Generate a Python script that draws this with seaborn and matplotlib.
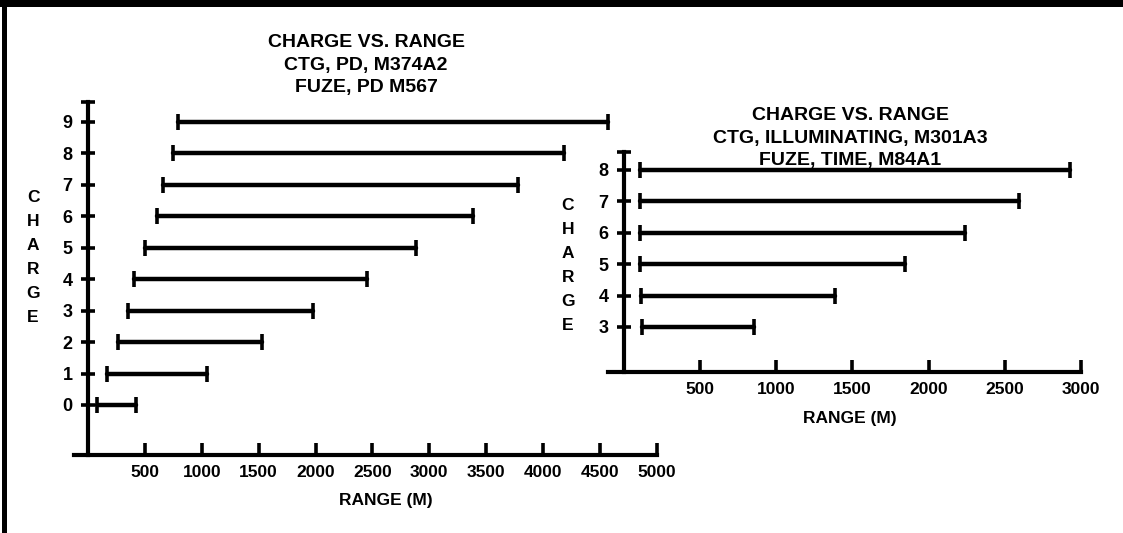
import numpy as np
import pandas as pd
import matplotlib
matplotlib.use("Agg")
import matplotlib.pyplot as plt
import matplotlib.patches as mpatches
import seaborn as sns

# ---------------- data ----------------
left_charges = [0, 1, 2, 3, 4, 5, 6, 7, 8, 9]
left_min = [75, 165, 265, 350, 405, 505, 605, 655, 745, 795]
left_max = [425, 1045, 1525, 1975, 2455, 2885, 3385, 3780, 4180, 4570]
left_xticks = [500, 1000, 1500, 2000, 2500, 3000, 3500, 4000, 4500, 5000]
left_title = ["CHARGE VS. RANGE", "CTG, PD, M374A2", "FUZE, PD M567"]

right_charges = [3, 4, 5, 6, 7, 8]
right_min = [115, 110, 105, 105, 105, 105]
right_max = [855, 1385, 1845, 2240, 2590, 2930]
right_xticks = [500, 1000, 1500, 2000, 2500, 3000]
right_title = ["CHARGE VS. RANGE", "CTG, ILLUMINATING, M301A3", "FUZE, TIME, M84A1"]

x_label = "RANGE (M)"
y_label = "CHARGE"

# ---------------- style ----------------
sns.set_theme(style="white")
plt.rcParams["font.family"] = ["Liberation Sans", "DejaVu Sans"]
plt.rcParams["font.weight"] = "bold"

W, H = 1123, 533
fig = plt.figure(figsize=(W / 100, H / 100), dpi=100)
fig.patch.set_facecolor("white")


def px_axes(x0, x1, ytop, ybot):
    """axes from pixel box (y measured from top)"""
    return fig.add_axes([x0 / W, 1 - ybot / H, (x1 - x0) / W, (ybot - ytop) / H])


def panel(ax, charges, lo, hi, xticks, xlim, ylim, ytop, xleft):
    df = pd.DataFrame({"charge": charges + charges, "range": lo + hi})
    sns.lineplot(data=df, x="range", y="charge", units="charge", estimator=None,
                 color="black", lw=3.2, marker="|", markersize=12,
                 markeredgewidth=2.6, markeredgecolor="black",
                 ax=ax, legend=False)
    ax.set_xlim(*xlim)
    ax.set_ylim(*ylim)
    ax.set_facecolor("none")
    for s in ["top", "right"]:
        ax.spines[s].set_visible(False)
    for s in ["left", "bottom"]:
        ax.spines[s].set_color("black")
        ax.spines[s].set_linewidth(3.0)
    ax.spines["left"].set_position(("data", 0))
    ax.spines["left"].set_bounds(ylim[0], ytop)
    ax.spines["bottom"].set_bounds(xleft, xticks[-1])
    ax.set_xticks(xticks)
    ax.set_xticklabels([str(t) for t in xticks], fontweight="bold")
    ax.set_yticks(charges)
    ax.set_yticklabels([str(c) for c in charges], fontweight="bold")
    ax.set_yticks([ytop], minor=True)
    ax.tick_params(axis="x", which="major", direction="in", length=9, width=2.6,
                   labelsize=12.5, pad=7, colors="black", bottom=True)
    ax.tick_params(axis="y", which="both", direction="inout", length=10, width=2.6,
                   labelsize=13, pad=6, colors="black", left=True)
    ax.set_xlabel("")
    ax.set_ylabel("")


# left panel: x px = 88 + 0.1138*v ; y px = 405 - 31.44*c
axL = px_axes(74, 663, 98, 455)
panel(axL, left_charges, left_min, left_max, left_xticks,
      xlim=(-123, 5053), ylim=(-1.59, 9.76), ytop=9.62, xleft=-123)

# right panel: x px = 624 + 0.1523*v ; y px = 170 + 31.4*(8-c)
axR = px_axes(608, 1086, 148, 372)
panel(axR, right_charges, right_min, right_max, right_xticks,
      xlim=(-105, 3033), ylim=(1.567, 8.70), ytop=8.58, xleft=-105)

# titles
fig.text(366 / W, 1 - 34 / H, "\n".join(left_title), ha="center", va="top",
         fontsize=14, fontweight="bold", linespacing=1.43, color="black")
fig.text(850 / W, 1 - 107 / H, "\n".join(right_title), ha="center", va="top",
         fontsize=14, fontweight="bold", linespacing=1.43, color="black")

# axis labels
fig.text(386 / W, 1 - 500 / H, x_label, ha="center", va="center",
         fontsize=12.5, fontweight="bold", color="black")
fig.text(850 / W, 1 - 418 / H, x_label, ha="center", va="center",
         fontsize=12.5, fontweight="bold", color="black")
fig.text(33 / W, 1 - 258 / H, "\n".join(y_label), ha="center", va="center",
         fontsize=12.5, fontweight="bold", linespacing=1.75, color="black")
fig.text(568 / W, 1 - 265 / H, "\n".join(y_label), ha="center", va="center",
         fontsize=12.5, fontweight="bold", linespacing=1.75, color="black")

# frame (top and left border)
fig.add_artist(mpatches.Rectangle((0, 1 - 7 / H), 1, 7 / H, transform=fig.transFigure,
                                  color="black", lw=0))
fig.add_artist(mpatches.Rectangle((2 / W, 0), 5 / W, 1, transform=fig.transFigure,
                                  color="black", lw=0))

fig.savefig("out.png", dpi=100, facecolor="white")
